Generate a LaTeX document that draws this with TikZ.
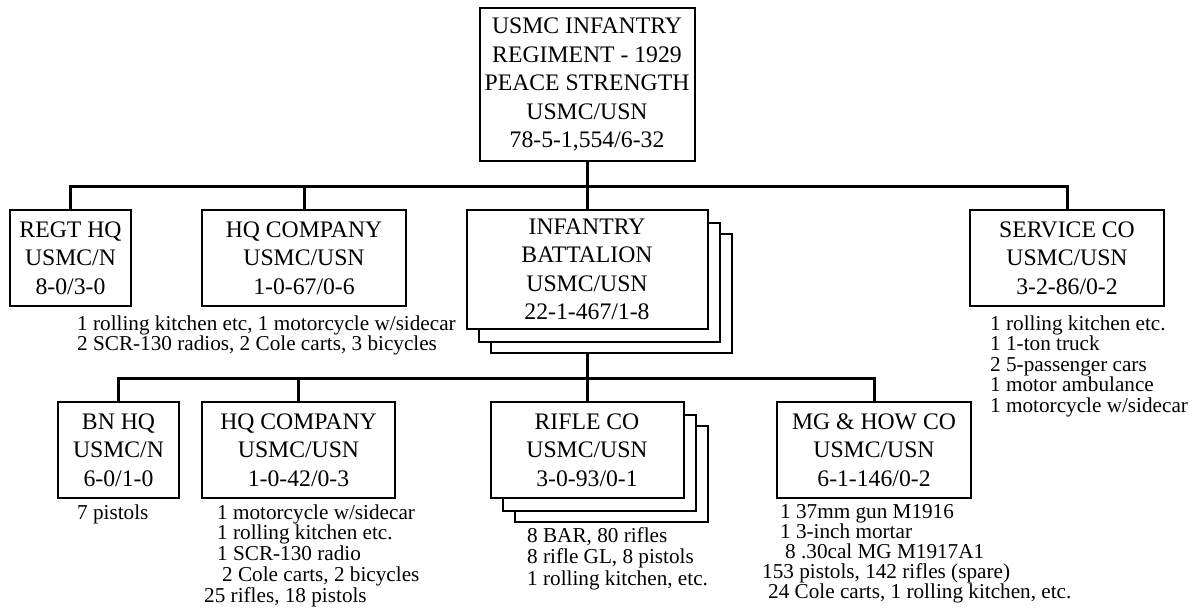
\documentclass[tikz,border=0pt]{standalone}
\usepackage{fontspec}
\setmainfont{Liberation Serif}
\usetikzlibrary{positioning,shadows,backgrounds}

\begin{document}
\begin{tikzpicture}[
    x=1pt, y=-1pt,
    unit_box/.style={draw=black, fill=white, line width=2pt, align=center, inner sep=0pt,
        font=\fontsize{23.7}{28.5}\selectfont, minimum height=96pt},
    stack_box/.style={unit_box,
        copy shadow={shadow xshift=24pt, shadow yshift=-24pt, line width=2pt},
        copy shadow={shadow xshift=12pt, shadow yshift=-13pt, line width=2pt}},
    kit_text/.style={anchor=base west, align=left, inner sep=0pt,
        font=\fontsize{21.2}{#1}\selectfont},
    kit_text/.default=20.5,
    link/.style={line width=3pt}
]
\useasboundingbox (0,0) rectangle (1194,611);

% REGIMENT
\node[unit_box, minimum width=215pt, minimum height=153pt] (regt) at (587,84.5)
    {USMC INFANTRY\\REGIMENT - 1929\\PEACE STRENGTH\\USMC/USN\\78-5-1,554/6-32};

% REGIMENT LEVEL
\node[unit_box, minimum width=121pt] (regthq) at (70.5,258) {REGT HQ\\USMC/N\\8-0/3-0};
\node[unit_box, minimum width=204pt] (hqco) at (304,258) {HQ COMPANY\\USMC/USN\\1-0-67/0-6};
\node[stack_box, minimum width=241pt, minimum height=119pt] (bn) at (587,269.5)
    {INFANTRY\\BATTALION\\USMC/USN\\22-1-467/1-8};
\node[unit_box, minimum width=194pt] (svc) at (1067,258) {SERVICE CO\\USMC/USN\\3-2-86/0-2};

% kit lists are anchored on the baseline of their last line
\node[kit_text=18.5] (hqco_kit) at (77,350.5)
    {1 rolling kitchen etc, 1 motorcycle w/sidecar\\2 SCR-130 radios, 2 Cole carts, 3 bicycles};
\node[kit_text] (svc_kit) at (990,412)
    {1 rolling kitchen etc.\\1 1-ton truck\\2 5-passenger cars\\1 motor ambulance\\1 motorcycle w/sidecar};

% BATTALION LEVEL
\node[unit_box, minimum width=121pt] (bnhq) at (118.5,450) {BN HQ\\USMC/N\\6-0/1-0};
\node[unit_box, minimum width=193pt] (hqco2) at (298.5,450) {HQ COMPANY\\USMC/USN\\1-0-42/0-3};
\node[stack_box, minimum width=193pt] (rifle) at (587,450) {RIFLE CO\\USMC/USN\\3-0-93/0-1};
\node[unit_box, minimum width=194pt] (mg) at (874,450) {MG \& HOW CO\\USMC/USN\\6-1-146/0-2};

\node[kit_text] (bnhq_kit) at (77,519) {7 pistols};
\node[kit_text=20.75] (hqco2_kit) at (204,602)
    {\hspace*{13pt}1 motorcycle w/sidecar\\\hspace*{13pt}1 rolling kitchen etc.\\\hspace*{13pt}1 SCR-130 radio\\\hspace*{18pt}2 Cole carts, 2 bicycles\\25 rifles, 18 pistols};
\node[kit_text=21.5] (rifle_kit) at (527,585)
    {8 BAR, 80 rifles\\8 rifle GL, 8 pistols\\1 rolling kitchen, etc.};
\node[kit_text=20] (mg_kit) at (762,598)
    {\hspace*{18pt}1 37mm gun M1916\\\hspace*{18pt}1 3-inch mortar\\\hspace*{23pt}8 .30cal MG M1917A1\\153 pistols, 142 rifles (spare)\\\hspace*{6pt}24 Cole carts, 1 rolling kitchen, etc.};

% CONNECTORS
\coordinate (bus1) at (587,186);
\coordinate (bus2) at (587,378);
\begin{scope}[on background layer]
    \draw[link] (regt) -- (bn);
    \draw[link] (regthq) |- (bus1) -| (svc);
    \draw[link] (hqco) -- (hqco |- bus1);
    \draw[link] (bn) -- (rifle);
    \draw[link] (bnhq) |- (bus2) -| (mg);
    \draw[link] (hqco2) -- (hqco2 |- bus2);
\end{scope}

\end{tikzpicture}
\end{document}
